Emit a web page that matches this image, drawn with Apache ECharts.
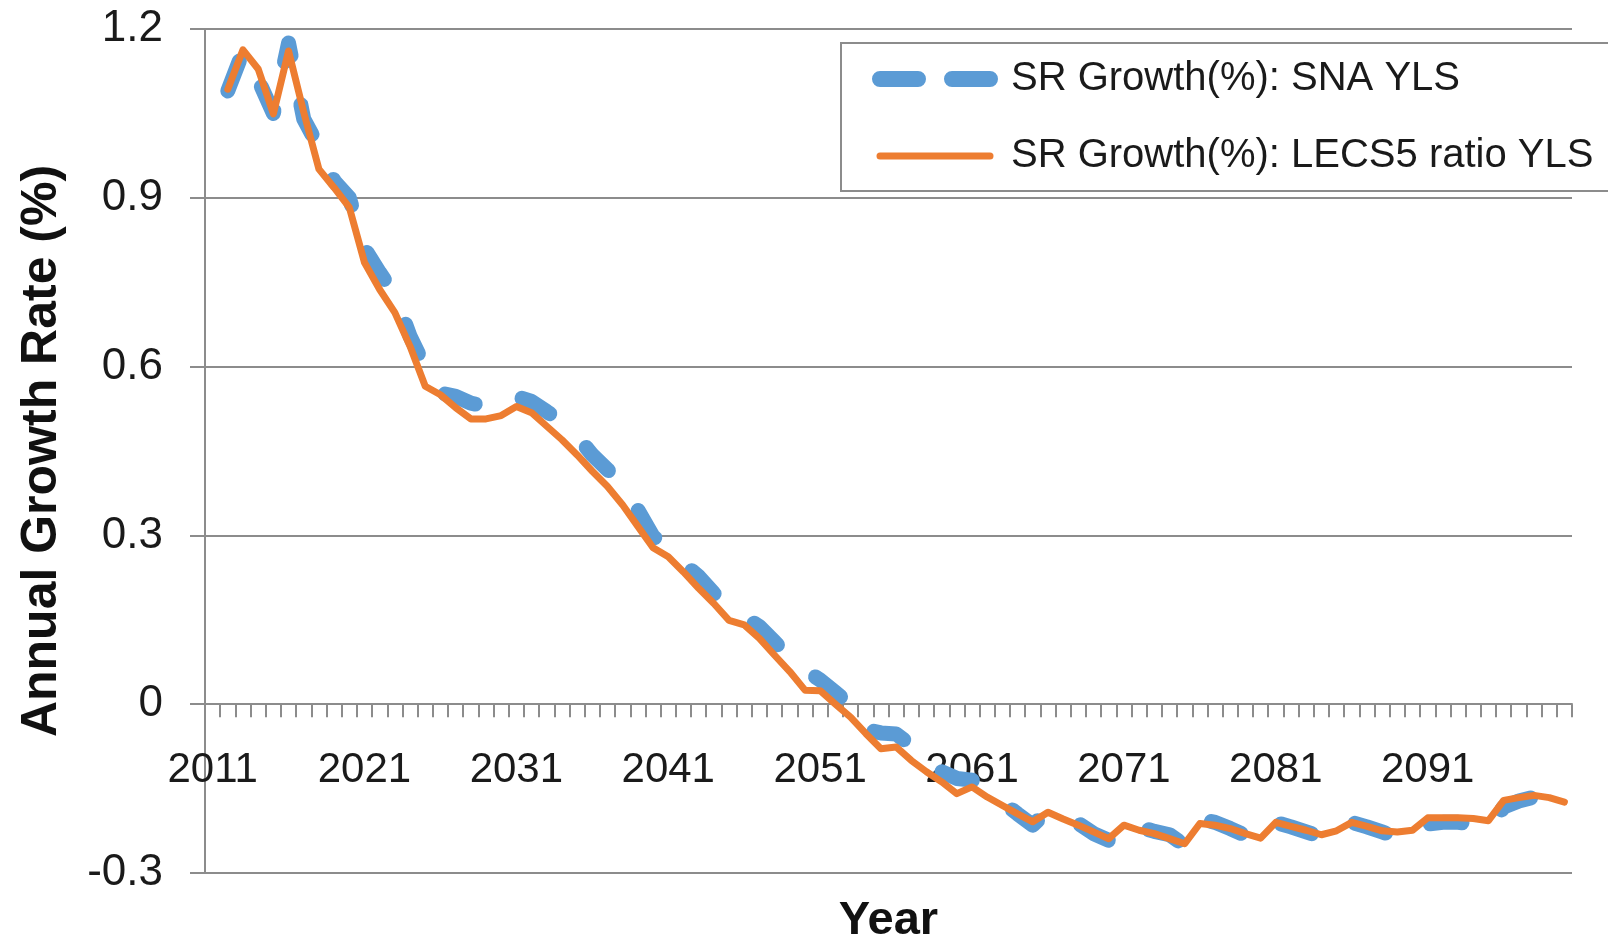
<!DOCTYPE html>
<html>
<head>
<meta charset="utf-8">
<script src="https://cdn.jsdelivr.net/npm/echarts@6.0.0/dist/echarts.min.js"></script>
<style>
  html, body { margin: 0; padding: 0; background: #ffffff; }
  #chart { width: 1608px; height: 939px; }
</style>
</head>
<body>
<div id="chart"></div>
<script>
// Categories (years)
var years = [
  '2011','2012','2013','2014','2015','2016','2017','2018','2019','2020',
  '2021','2022','2023','2024','2025','2026','2027','2028','2029','2030',
  '2031','2032','2033','2034','2035','2036','2037','2038','2039','2040',
  '2041','2042','2043','2044','2045','2046','2047','2048','2049','2050',
  '2051','2052','2053','2054','2055','2056','2057','2058','2059','2060',
  '2061','2062','2063','2064','2065','2066','2067','2068','2069','2070',
  '2071','2072','2073','2074','2075','2076','2077','2078','2079','2080',
  '2081','2082','2083','2084','2085','2086','2087','2088','2089','2090',
  '2091','2092','2093','2094','2095','2096','2097','2098','2099','2100'
];

// SR Growth(%): SNA YLS (blue dashed)
var snaYLS = [
  null, 1.09, 1.16, 1.11, 1.05, 1.175, 1.04, 0.99, 0.93, 0.90,
  0.81, 0.767, 0.728, 0.654, 0.598, 0.553, 0.547, 0.535, 0.530, 0.530,
  0.547, 0.538, 0.520, 0.501, 0.476, 0.443, 0.417, 0.387, 0.345, 0.298,
  0.280, 0.250, 0.227, 0.197, 0.171, 0.155, 0.138, 0.111, 0.082, 0.061,
  0.043, 0.021, -0.002, -0.045, -0.051, -0.053, -0.073, -0.094, -0.120, -0.132,
  -0.135, -0.150, -0.174, -0.195, -0.215, -0.189, -0.201, -0.212, -0.230, -0.242,
  -0.210, -0.218, -0.226, -0.232, -0.251, -0.204, -0.210, -0.221, -0.233, -0.242,
  -0.210, -0.218, -0.227, -0.236, -0.236, -0.210, -0.218, -0.227, -0.236, -0.236,
  -0.213, -0.210, -0.210, -0.213, -0.221, -0.183, -0.172, -0.165, -0.180, -0.183
];

// SR Growth(%): LECS5 ratio YLS (orange solid)
var lecs5YLS = [
  null, 1.093, 1.163, 1.129, 1.049, 1.161, 1.052, 0.951, 0.918, 0.883,
  0.785, 0.737, 0.696, 0.636, 0.565, 0.550, 0.527, 0.507, 0.507, 0.513,
  0.529, 0.518, 0.494, 0.470, 0.443, 0.414, 0.387, 0.354, 0.316, 0.278,
  0.262, 0.235, 0.206, 0.179, 0.149, 0.141, 0.117, 0.087, 0.058, 0.025,
  0.024, 0.000, -0.023, -0.052, -0.079, -0.076, -0.100, -0.120, -0.138, -0.159,
  -0.147, -0.165, -0.180, -0.195, -0.209, -0.192, -0.204, -0.215, -0.227, -0.239,
  -0.215, -0.224, -0.230, -0.239, -0.248, -0.212, -0.215, -0.221, -0.230, -0.238,
  -0.210, -0.217, -0.224, -0.232, -0.225, -0.210, -0.217, -0.225, -0.227, -0.224,
  -0.202, -0.202, -0.202, -0.203, -0.207, -0.171, -0.166, -0.162, -0.166, -0.174
];

var seriesNames = ['SR Growth(%): SNA YLS', 'SR Growth(%): LECS5 ratio YLS'];
var yMin = -0.3, yMax = 1.2, yStep = 0.3;

var FONT = '"Liberation Sans", Arial, sans-serif';
var GRAY = '#8c8c8c';
var BLUE = '#5B9BD5';
var ORANGE = '#ED7D31';

var GRID = { left: 205, right: 36, top: 29, bottom: 66 };
var plotH = 939 - GRID.top - GRID.bottom;
// distance from the bottom of the plot up to the zero line (axis sits on y = 0)
var zeroOffset = -plotH * (0 - yMin) / (yMax - yMin);

var chart = echarts.init(document.getElementById('chart'), null, { renderer: 'canvas' });
chart.setOption({
  backgroundColor: '#ffffff',
  animation: false,
  grid: { left: GRID.left, right: GRID.right, top: GRID.top, bottom: GRID.bottom, containLabel: false, outerBoundsMode: 'none' },
  legend: {
    orient: 'vertical',
    left: 841,
    top: 43,
    padding: [16, 30, 15, 31],
    itemWidth: 110,
    itemHeight: 40,
    itemGap: 37,
    backgroundColor: '#ffffff',
    borderColor: GRAY,
    borderWidth: 2,
    borderRadius: 0,
    textStyle: { fontSize: 40, color: '#1a1a1a', fontFamily: FONT, padding: [0, 0, 0, 16] },
    data: [
      { name: seriesNames[0], itemStyle: { opacity: 0 },
        lineStyle: { color: BLUE, width: 16, type: [38, 34], cap: 'round' } },
      { name: seriesNames[1], itemStyle: { opacity: 0 },
        lineStyle: { color: ORANGE, width: 7, type: 'solid', cap: 'round' } }
    ]
  },
  xAxis: {
    type: 'category',
    data: years,
    boundaryGap: true,
    position: 'bottom',
    offset: zeroOffset,
    name: 'Year',
    nameLocation: 'middle',
    nameGap: 193,
    nameTextStyle: { fontSize: 47, fontWeight: 'bold', color: '#111', fontFamily: FONT },
    axisLine: { onZero: false, lineStyle: { color: GRAY, width: 2 } },
    axisTick: { show: true, interval: 0, length: 13, inside: false, lineStyle: { color: GRAY, width: 2 } },
    axisLabel: { interval: 9, fontSize: 42, color: '#1a1a1a', fontFamily: FONT, margin: 45 },
    splitLine: { show: false }
  },
  yAxis: {
    type: 'value',
    min: yMin,
    max: yMax,
    interval: yStep,
    name: 'Annual Growth Rate (%)',
    nameLocation: 'middle',
    nameRotate: 90,
    nameGap: 138,
    nameTextStyle: { fontSize: 50, fontWeight: 'bold', color: '#111', fontFamily: FONT },
    axisLine: { show: true, lineStyle: { color: GRAY, width: 2 } },
    axisTick: { show: true, length: 15, lineStyle: { color: GRAY, width: 2 } },
    axisLabel: {
      fontSize: 44, color: '#1a1a1a', fontFamily: FONT, margin: 42,
      formatter: function (v) { return String(+v.toFixed(1)); }
    },
    splitLine: { show: true, lineStyle: { color: GRAY, width: 2 } }
  },
  series: [
    {
      name: seriesNames[0],
      type: 'line',
      data: snaYLS,
      symbol: 'none',
      showSymbol: false,
      connectNulls: false,
      z: 2,
      lineStyle: { color: BLUE, width: 15, type: [32, 50], cap: 'round', join: 'round' },
      itemStyle: { color: BLUE }
    },
    {
      name: seriesNames[1],
      type: 'line',
      data: lecs5YLS,
      symbol: 'none',
      showSymbol: false,
      connectNulls: false,
      z: 3,
      lineStyle: { color: ORANGE, width: 7, type: 'solid', cap: 'round', join: 'round' },
      itemStyle: { color: ORANGE }
    }
  ]
});
</script>
</body>
</html>
